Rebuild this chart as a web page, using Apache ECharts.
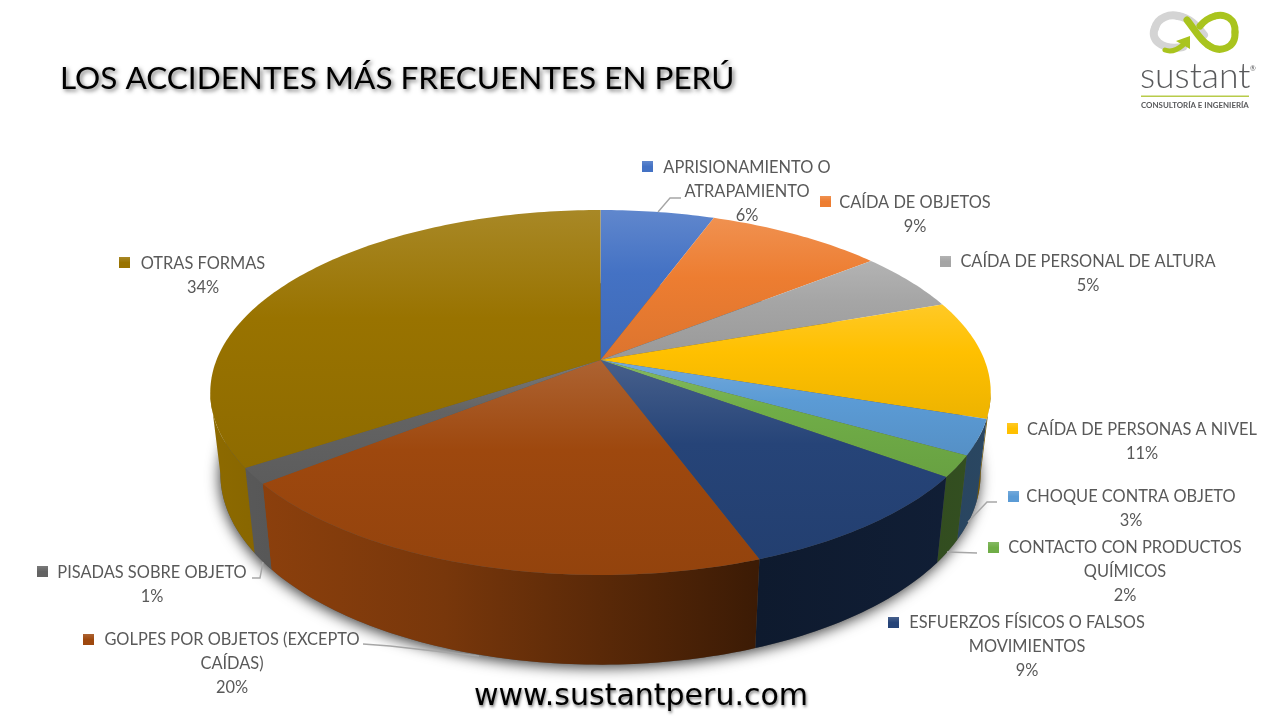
<!DOCTYPE html>
<html><head><meta charset="utf-8">
<style>html,body{margin:0;padding:0;background:#fff}#c{width:1280px;height:720px}</style>
<script src="https://cdn.jsdelivr.net/npm/echarts@6/dist/echarts.min.js"></script>
</head><body><div id="c"></div>
<script>
const categories = ['APRISIONAMIENTO O ATRAPAMIENTO','CAÍDA DE OBJETOS','CAÍDA DE PERSONAL DE ALTURA','CAÍDA DE PERSONAS A NIVEL','CHOQUE CONTRA OBJETO','CONTACTO CON PRODUCTOS QUÍMICOS','ESFUERZOS FÍSICOS O FALSOS MOVIMIENTOS','GOLPES POR OBJETOS (EXCEPTO CAÍDAS)','PISADAS SOBRE OBJETO','OTRAS FORMAS'];
const values = [5.6,8.7,5.3,10.5,3.1,1.9,9.3,19.9,1.4,34.3];
const colors = ['#4472C4','#ED7D31','#A5A5A5','#FFC000','#5B9BD5','#70AD47','#264478','#9E480E','#636363','#997300'];
const titleText = 'LOS ACCIDENTES MÁS FRECUENTES EN PERÚ';
const urlText = 'www.sustantperu.com';

// wrapped labels
const wraps = {0:['APRISIONAMIENTO O','ATRAPAMIENTO'],5:['CONTACTO CON PRODUCTOS','QUÍMICOS'],6:['ESFUERZOS FÍSICOS O FALSOS','MOVIMIENTOS'],7:['GOLPES POR OBJETOS (EXCEPTO','CAÍDAS)']};
// layout: text centre x, first-line y, key x, key y
const labelLayout = [[747,168,647,166],[915,203,825,201],[1088,262,945,261],[1142,430,1012,428],[1131,497,1013,496],[1125,548,993,547],[1027,623,893,622],[232,640,88,639],[152,573,42,571],[203,264,124,262]];
const leaders = {0:[[681,198],[670,198],[658,212]],4:[[997,502],[987,502],[968,522]],5:[[977,553],[947,552]],7:[[363,644],[390,646],[479,656]],8:[[252,578],[260,578],[263,562]]};

const total = values.reduce((a,b)=>a+b,0);
const cum = [0]; values.forEach((v,i)=>cum.push(cum[i]+v));
const ang = i => cum[i]/total*360;
const CX=600.5, CY=360, A=384, B=176.7, P=0.178;
const BS=0.974, BY=1.045, BCY=440;
const vis0=100.3, vis1=259.7;
function rimTop(d){const t=d*Math.PI/180,u=Math.sin(t),v=-Math.cos(t),w=1-P*v;return [CX+A*u/w,CY+B*v/w];}
function rimBot(d){const t=d*Math.PI/180,u=Math.sin(t),v=-Math.cos(t),w=1-P*v;return [CX+BS*A*u/w,BCY+BY*B*v/w];}
function arc(f,a,b){const pts=[],n=Math.max(2,Math.ceil(Math.abs(b-a)));for(let k=0;k<=n;k++)pts.push(f(a+(b-a)*k/n));return pts;}
function rgb(h){return [1,3,5].map(i=>parseInt(h.substr(i,2),16));}
function mul(h,m){return 'rgb('+rgb(h).map(c=>Math.round(c*m)).join(',')+')';}
function mix(h,m){return 'rgb('+rgb(h).map(c=>Math.round(c+(255-c)*m)).join(',')+')';}

function renderSide(params){
  const i=params.dataIndex, children=[];
  if(i===0){
    children.push({type:'polygon',z2:-5,shape:{points:arc(rimBot,0,360)},style:{fill:'#555',shadowBlur:14,shadowColor:'rgba(0,0,0,0.75)',shadowOffsetX:-1,shadowOffsetY:3}});
  }
  const a=Math.max(ang(i),vis0), b=Math.min(ang(i+1),vis1);
  if(b>a){
    const c=colors[i];
    children.push({type:'polygon',shape:{points:arc(rimTop,a,b).concat(arc(rimBot,b,a))},
      style:{fill:{type:'linear',global:true,x:210,y:0,x2:990,y2:0,colorStops:[{offset:0,color:mul(c,0.92)},{offset:0.3,color:mul(c,0.76)},{offset:0.7,color:mul(c,0.38)},{offset:1,color:mul(c,0.46)}]}}});
  }
  return {type:'group',children};
}
function renderTop(params){
  const i=params.dataIndex,c=colors[i];
  const pts=[[CX,CY]].concat(arc(rimTop,ang(i),ang(i+1)));
  const children=[{type:'polygon',shape:{points:pts},style:{fill:{type:'linear',x:0,y:0,x2:0,y2:1,colorStops:[{offset:0,color:mix(c,0.15)},{offset:0.42,color:c},{offset:1,color:mul(c,0.93)}]}}}];
  return {type:'group',children};
}
function renderLabel(params){
  const i=params.dataIndex,c=colors[i],[tx,ty,kx,ky]=labelLayout[i];
  const lines=(wraps[i]||[categories[i]]).concat([Math.round(values[i])+'%']);
  const children=[
    {type:'rect',shape:{x:kx-5,y:ky-5,width:11,height:11},style:{fill:{type:'linear',x:0,y:0,x2:0,y2:1,colorStops:[{offset:0,color:mix(c,0.15)},{offset:0.5,color:c},{offset:1,color:c}]}}},
    {type:'text',style:{text:lines.join('\n'),x:tx,y:ty-12,font:'16.4px Lato',fill:'#595959',align:'center',verticalAlign:'top',lineHeight:24}}
  ];
  if(leaders[i]) children.push({type:'polyline',shape:{points:leaders[i]},style:{stroke:'#a6a6a6',lineWidth:1.4,fill:null}});
  return {type:'group',children};
}
function curve(z,stroke,w,p){return {type:'bezierCurve',z:z,shape:{x1:p[0],y1:p[1],cpx1:p[2],cpy1:p[3],cpx2:p[4],cpy2:p[5],x2:p[6],y2:p[7]},style:{stroke:stroke,lineWidth:w,fill:null,lineCap:'round'}};}
const GREY='#d4d4d4', GREEN='#a9c41e';
const seriesData=values.map((v,i)=>({name:categories[i],value:v}));
const chart=echarts.init(document.getElementById('c'),null,{renderer:'canvas',width:1280,height:720});
chart.setOption({
  animation:false,
  backgroundColor:'#ffffff',
  series:[
    {type:'custom',coordinateSystem:'none',z:1,data:seriesData,renderItem:renderSide,silent:true},
    {type:'custom',coordinateSystem:'none',z:2,data:seriesData,renderItem:renderTop,silent:true},
    {type:'custom',coordinateSystem:'none',z:3,data:seriesData,renderItem:renderLabel,silent:true}
  ],
  graphic:[
    {type:'text',z:10,style:{text:titleText,x:60,y:79,font:'31.5px Lato',fill:'#000',verticalAlign:'middle',textShadowColor:'rgba(0,0,0,0.55)',textShadowBlur:4,textShadowOffsetX:2,textShadowOffsetY:2}},
    {type:'text',z:10,style:{text:urlText,x:641,y:697,font:'30px "DejaVu Sans"',fill:'#000',align:'center',verticalAlign:'middle',textShadowColor:'rgba(0,0,0,0.5)',textShadowBlur:3,textShadowOffsetX:1,textShadowOffsetY:2}},
    curve(10,GREY,8,[1183,47,1160,51,1150,38,1155,28]),
    curve(10,GREY,8,[1155,28,1158,17,1170,14,1178,16]),
    curve(10,GREY,8,[1178,16,1190,18,1197,26,1204,35]),
    curve(11,GREEN,7,[1187,20,1195,30,1200,40,1208,45]),
    curve(11,GREEN,7,[1208,45,1220,54,1236,48,1235,32]),
    curve(11,GREEN,7,[1235,32,1236,19,1225,13,1215,16]),
    curve(11,GREEN,7,[1215,16,1208,18,1204,21,1200,26]),
    curve(11,GREEN,5,[1165,50,1170,52,1176,51,1183,45]),
    {type:'polygon',z:11,shape:{points:[[1176,41],[1190,36],[1190,49]]},style:{fill:GREEN}},
    {type:'text',z:10,style:{text:'sustant',x:1140,y:77,font:'300 35.5px Lato',fill:'#58595b',verticalAlign:'middle'}},
    {type:'text',z:10,style:{text:'®',x:1250,y:69,font:'7px Lato',fill:'#58595b',verticalAlign:'middle'}},
    {type:'rect',z:10,shape:{x:1141,y:95.5,width:108,height:1.5},style:{fill:'#b8cb4a'}},
    {type:'text',z:10,style:{text:'CONSULTORÍA E INGENIERÍA',x:1141,y:105,font:'700 7.9px Lato',fill:'#58595b',verticalAlign:'middle'}}
  ]
});
</script></body></html>
